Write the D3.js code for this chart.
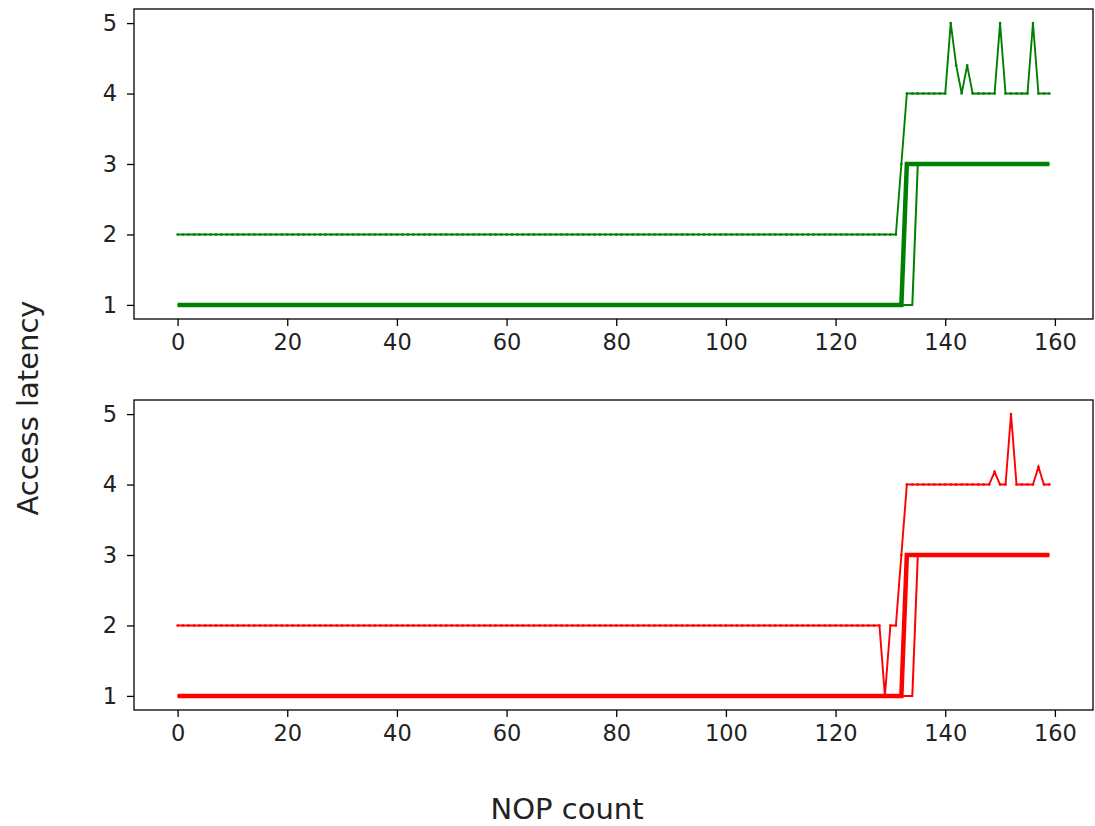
<!DOCTYPE html>
<html>
<head>
<meta charset="utf-8">
<script src="https://cdn.jsdelivr.net/npm/d3@7"></script>
<style>
  body { margin: 0; background: #fff; }
  svg text { font-family: "DejaVu Sans", sans-serif; }
</style>
</head>
<body>
<svg id="chart" width="1095" height="826"></svg>
<script>
// NOP count runs 0..159
var nops = d3.range(0, 160)

// value changes per series, as [nop, value]; the value holds until the next change
var greenA = [[0, 2], [131, 2], [132, 3], [133, 4], [140, 4], [141, 5], [142, 4.4], [143, 4], [144, 4.4], [145, 4],
              [149, 4], [150, 5], [151, 4], [155, 4], [156, 5], [157, 4], [159, 4]]
var greenB = [[0, 1], [132, 1], [133, 3], [159, 3]]
var greenC = [[0, 1], [134, 1], [135, 3], [159, 3]]

var redA = [[0, 2], [128, 2], [129, 1], [130, 2], [131, 2], [132, 3], [133, 4], [148, 4], [149, 4.18], [150, 4],
            [151, 4], [152, 5], [153, 4], [156, 4], [157, 4.25], [158, 4], [159, 4]]
var redB = [[0, 1], [132, 1], [133, 3], [159, 3]]
var redC = [[0, 1], [134, 1], [135, 3], [159, 3]]

var xTicks = [0, 20, 40, 60, 80, 100, 120, 140, 160]
var yTicks = [1, 2, 3, 4, 5]

// expand change list into one value per nop
function expand(changes) {
    var out = []
    nops.forEach(function (n) {
        var v = changes[0][1]
        changes.forEach(function (c) { if (c[0] <= n) v = c[1] })
        out.push({ x: n, y: v })
    })
    return out
}

var svg = d3.select("#chart")
var margin = { left: 134, right: 2 }
var width = 1095

var x = d3.scaleLinear().domain([-7.95, 166.95]).range([margin.left, width - margin.right])

var panels = [
    { top: 9, bottom: 319, color: "#008000", series: [greenA, greenB, greenC] },
    { top: 400, bottom: 710, color: "#ff0000", series: [redA, redB, redC] }
]

panels.forEach(function (p) {
    var y = d3.scaleLinear().domain([0.8, 5.2]).range([p.bottom, p.top])
    var g = svg.append("g")

    var line = d3.line().x(d => x(d.x)).y(d => y(d.y))

    var a = expand(p.series[0]), b = expand(p.series[1]), c = expand(p.series[2])

    // thin series with small point markers
    g.append("path").datum(a)
        .attr("fill", "none").attr("stroke", p.color).attr("stroke-width", 1.9)
        .attr("d", line)
    g.selectAll("circle.pt").data(a).enter().append("circle")
        .attr("class", "pt")
        .attr("cx", d => x(d.x)).attr("cy", d => y(d.y))
        .attr("r", 1.3).attr("fill", p.color)

    g.append("path").datum(c)
        .attr("fill", "none").attr("stroke", p.color).attr("stroke-width", 2)
        .attr("d", line)

    g.append("path").datum(b)
        .attr("fill", "none").attr("stroke", p.color).attr("stroke-width", 4.5)
        .attr("d", line)

    // axes
    var xa = g.append("g")
        .attr("transform", `translate(0,${p.bottom})`)
        .call(d3.axisBottom(x).tickValues(xTicks).tickSize(7).tickPadding(8).tickSizeOuter(0))
    var ya = g.append("g")
        .attr("transform", `translate(${margin.left},0)`)
        .call(d3.axisLeft(y).tickValues(yTicks).tickFormat(d3.format("d")).tickSize(7).tickPadding(10).tickSizeOuter(0))

    ;[xa, ya].forEach(function (ax) {
        ax.select(".domain").remove()
        ax.selectAll("line").attr("stroke", "#000").attr("stroke-width", 1.3)
        ax.selectAll("text").attr("font-size", 22.5).attr("fill", "#222")
            .attr("font-family", "DejaVu Sans, sans-serif")
    })

    g.append("rect")
        .attr("x", margin.left).attr("y", p.top)
        .attr("width", width - margin.right - margin.left).attr("height", p.bottom - p.top)
        .attr("fill", "none").attr("stroke", "#000").attr("stroke-width", 1.3)
})

svg.append("text")
    .attr("x", 567).attr("y", 819)
    .attr("text-anchor", "middle")
    .attr("font-size", 29).attr("fill", "#222")
    .text("NOP count")

svg.append("text")
    .attr("transform", "translate(38,408) rotate(-90)")
    .attr("text-anchor", "middle")
    .attr("font-size", 29).attr("fill", "#222")
    .text("Access latency")
</script>
</body>
</html>
